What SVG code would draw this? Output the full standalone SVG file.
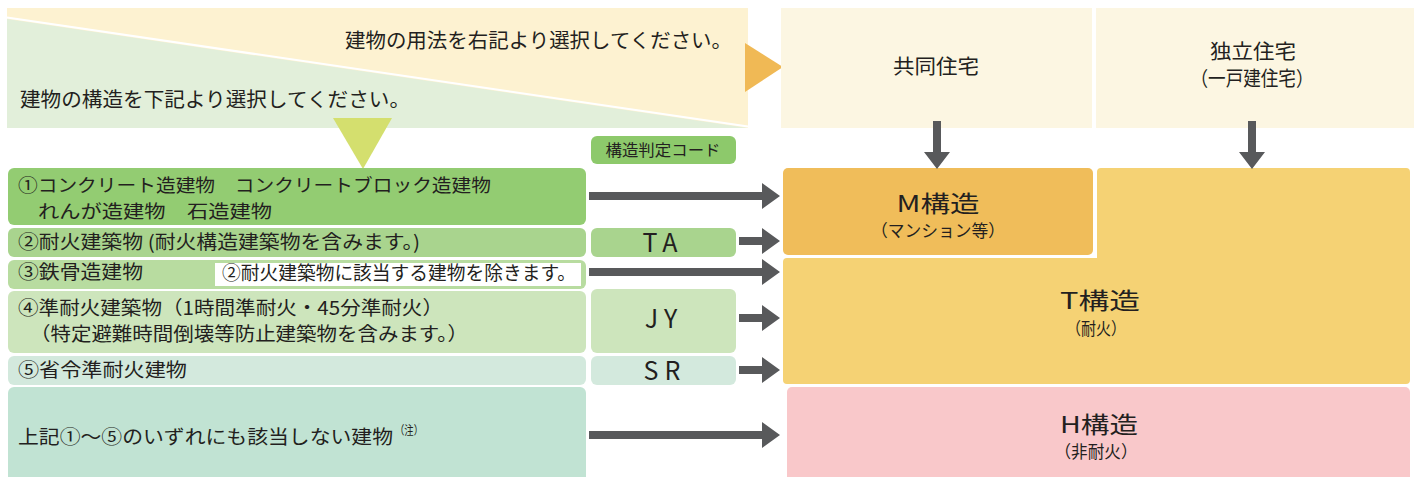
<svg xmlns="http://www.w3.org/2000/svg" width="1414" height="477" viewBox="0 0 1414 477">
<defs>
<style>
text{font-family:"Noto Sans CJK JP","Noto Sans",sans-serif;fill:#231f20;}
.t18{font-size:18px;}
.t19{font-size:19px;}
.t20{font-size:20px;}
.code{font-size:25px;text-anchor:middle;}
.big{font-size:23px;text-anchor:middle;}
.sub{font-size:17px;text-anchor:middle;}
.arr{fill:#58595b;}
</style>
</defs>
<rect width="1414" height="477" fill="#ffffff"/>

<g id="banner">
<rect x="7" y="8" width="741" height="120" fill="#fdf2d1"/>
<polygon points="7,19 748,128 7,128" fill="#e2efda"/>
<line x1="7" y1="17.5" x2="748" y2="126.5" stroke="#ffffff" stroke-width="2"/>
<text class="t20" x="732" y="48" text-anchor="end" textLength="387" lengthAdjust="spacingAndGlyphs">建物の用法を右記より選択してください。</text>
<text class="t20" x="20" y="107" textLength="390" lengthAdjust="spacingAndGlyphs">建物の構造を下記より選択してください。</text>
<polygon points="333,118 392,118 363,169" fill="#d4df6e"/>
<polygon points="745,43 783,67 745,92" fill="#f0b955"/>
</g>

<g id="usage-kyodo">
<rect x="781" y="8" width="311" height="120" fill="#fcf6e2"/>
<text class="t20" x="936" y="74" text-anchor="middle" textLength="86" lengthAdjust="spacingAndGlyphs">共同住宅</text>
</g>
<g id="usage-dokuritsu">
<rect x="1096" y="8" width="318" height="120" fill="#fcf6e2"/>
<text class="t20" x="1253" y="59" text-anchor="middle" textLength="86" lengthAdjust="spacingAndGlyphs">独立住宅</text>
<text class="t20" x="1252" y="86" text-anchor="middle" textLength="123" lengthAdjust="spacingAndGlyphs">（一戸建住宅）</text>
</g>

<g id="code-header">
<rect x="591" y="136" width="145" height="28" rx="6" fill="#8dc96b"/>
<text x="663" y="156" font-size="15.5" text-anchor="middle" textLength="115" lengthAdjust="spacingAndGlyphs">構造判定コード</text>
</g>

<g id="row1">
<rect x="8" y="168" width="578" height="57" rx="6" fill="#93cc72"/>
<text class="t18" x="18" y="192" textLength="473" lengthAdjust="spacingAndGlyphs">①コンクリート造建物　コンクリートブロック造建物</text>
<text class="t18" x="38" y="218" textLength="234" lengthAdjust="spacingAndGlyphs">れんが造建物　石造建物</text>
</g>
<g id="row2">
<rect x="8" y="228" width="578" height="29" rx="6" fill="#a9d48e"/>
<text class="t19" x="18" y="249" textLength="402" lengthAdjust="spacingAndGlyphs">②耐火建築物 (耐火構造建築物を含みます。)</text>
</g>
<g id="row3">
<rect x="8" y="260" width="578" height="29" rx="6" fill="#b8dca0"/>
<text class="t19" x="18" y="279" textLength="125" lengthAdjust="spacingAndGlyphs">③鉄骨造建物</text>
<rect x="215" y="263" width="366" height="23" fill="#ffffff"/>
<text class="t19" x="222" y="280" textLength="354" lengthAdjust="spacingAndGlyphs">②耐火建築物に該当する建物を除きます。</text>
</g>
<g id="row4">
<rect x="8" y="291" width="578" height="62" rx="6" fill="#cde5bc"/>
<text class="t19" x="18" y="315" textLength="425" lengthAdjust="spacingAndGlyphs">④準耐火建築物（1時間準耐火・45分準耐火）</text>
<text class="t19" x="30" y="341" textLength="438" lengthAdjust="spacingAndGlyphs">（特定避難時間倒壊等防止建築物を含みます。）</text>
</g>
<g id="row5">
<rect x="8" y="356" width="578" height="29" rx="6" fill="#d3e9dd"/>
<text class="t19" x="18" y="377" textLength="169" lengthAdjust="spacingAndGlyphs">⑤省令準耐火建物</text>
</g>
<g id="row6">
<rect x="8" y="387" width="578" height="96" rx="6" fill="#c1e3d3"/>
<text class="t19" x="18" y="444" textLength="375" lengthAdjust="spacingAndGlyphs">上記①～⑤のいずれにも該当しない建物</text>
<text x="395" y="435" font-size="12" textLength="28" lengthAdjust="spacingAndGlyphs">（注）</text>
</g>

<g id="code-TA">
<rect x="591" y="228" width="145" height="29" rx="6" fill="#a9d48e"/>
<text class="code" x="663" y="252" letter-spacing="6">TA</text>
</g>
<g id="code-JY">
<rect x="591" y="289" width="145" height="64" rx="6" fill="#cde5bc"/>
<text class="code" x="664" y="328" letter-spacing="6">JY</text>
</g>
<g id="code-SR">
<rect x="591" y="356" width="145" height="29" rx="6" fill="#d3e9dd"/>
<text class="code" x="665" y="380" letter-spacing="6">SR</text>
</g>

<g id="struct-T">
<path d="M1101,168 H1406 Q1410,168 1410,172 V380 Q1410,384 1406,384 H787 Q783,384 783,380 V262 Q783,258 787,258 H1097 V172 Q1097,168 1101,168 Z" fill="#f5d274"/>
<text class="big" x="1100" y="309" textLength="80" lengthAdjust="spacingAndGlyphs">T構造</text>
<text class="sub" x="1096" y="335" textLength="60" lengthAdjust="spacingAndGlyphs">（耐火）</text>
</g>
<g id="struct-M">
<rect x="783" y="168" width="310" height="87" rx="5" fill="#f0bd5a"/>
<text class="big" x="938" y="212" textLength="83" lengthAdjust="spacingAndGlyphs">M構造</text>
<text class="sub" x="938" y="237" textLength="134" lengthAdjust="spacingAndGlyphs">（マンション等）</text>
</g>
<g id="struct-H">
<rect x="787" y="387" width="623" height="96" rx="5" fill="#f9c8ca"/>
<text class="big" x="1099" y="433" textLength="78" lengthAdjust="spacingAndGlyphs">H構造</text>
<text class="sub" x="1096" y="458" textLength="83" lengthAdjust="spacingAndGlyphs">（非耐火）</text>
</g>

<g id="connectors">
<path class="arr" d="M589,192 H762 V183 L780,196 L762,209 V200 H589 Z"/>
<path class="arr" d="M739,237 H762 V228 L780,241 L762,254 V245 H739 Z"/>
<path class="arr" d="M589,268 H762 V259 L780,272 L762,285 V276 H589 Z"/>
<path class="arr" d="M739,314 H762 V305 L780,318 L762,331 V322 H739 Z"/>
<path class="arr" d="M739,366 H762 V357 L780,370 L762,383 V374 H739 Z"/>
<path class="arr" d="M589,431 H762 V422 L780,435 L762,448 V439 H589 Z"/>
<path class="arr" d="M933,121 H941 V152 H950 L937,169 L924,152 H933 Z"/>
<path class="arr" d="M1248,121 H1256 V152 H1265 L1252,169 L1239,152 H1248 Z"/>
</g>
</svg>
